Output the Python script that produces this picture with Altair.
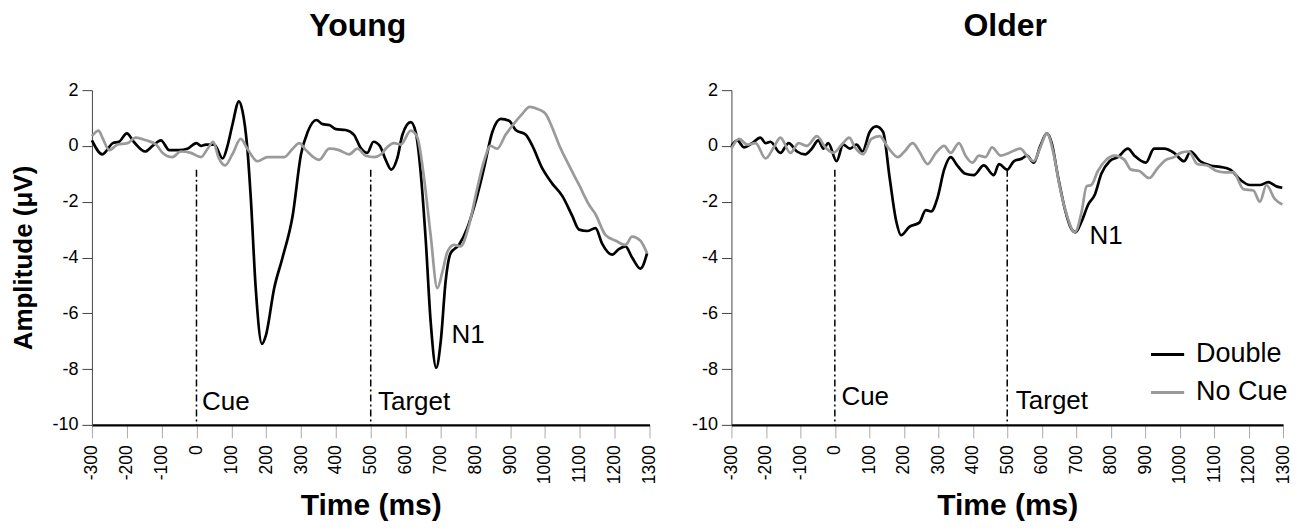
import altair as alt
import pandas as pd

FONT = "Liberation Sans"

# ---- data ----
young_double_t = [-300,-270,-240,-222,-200,-180,-147,-126,-102,-78,-50,-26,0,13,27,51,75,89,103,122,132,146,156,170,188,199,223,247,276,300,319,344,362,381,400,428,452,470,490,508,526,543,559,576,591,615,629,643,658,672,688,701,715,729,753,777,801,825,849,873,897,916,945,964,992,1021,1050,1078,1098,1121,1145,1164,1193,1212,1231,1250,1274,1293]
young_double_v = [0.2,-0.3,0.1,0.15,0.45,0.15,-0.2,0,0.2,-0.15,-0.15,-0.1,0.1,0,0.05,0.05,-0.45,0,0.75,1.6,1.25,-0.1,-1.9,-5.1,-7.1,-6.8,-5.1,-4.0,-2.5,-0.3,0.5,0.93,0.78,0.75,0.6,0.57,0.4,-0.05,-0.25,0.15,0,-0.5,-0.85,-0.45,0.4,0.85,0.5,-0.9,-3.4,-6.3,-7.95,-7.0,-4.85,-3.85,-3.55,-2.95,-2.0,-0.8,0.5,0.97,0.9,0.57,0.4,0,-0.8,-1.35,-1.8,-2.5,-3.0,-3.05,-2.95,-3.5,-3.9,-3.7,-3.6,-4.0,-4.4,-3.85]

young_nocue_t = [-300,-281,-270,-250,-226,-198,-174,-145,-116,-97,-69,-45,-16,13,32,48,63,82,103,127,146,175,204,232,252,276,295,314,352,381,409,438,462,486,510,530,543,567,586,615,634,653,672,691,706,720,739,758,782,806,825,844,863,887,911,935,956,983,1002,1021,1040,1069,1098,1126,1145,1174,1203,1231,1250,1274,1293]
young_nocue_v = [0.35,0.55,0.3,-0.15,0.05,0.1,0.3,0.2,0.05,-0.25,-0.4,-0.2,-0.25,-0.4,-0.1,0.15,-0.4,-0.7,-0.3,0.25,-0.1,-0.55,-0.4,-0.4,-0.4,-0.1,0.1,-0.15,-0.5,-0.1,-0.15,-0.3,-0.1,-0.35,-0.4,-0.3,-0.1,0.1,0.05,0.55,0.3,-1.15,-3.2,-5.1,-4.5,-3.8,-3.55,-3.6,-2.85,-1.5,-0.55,0,-0.1,0.4,0.8,1.15,1.4,1.3,1.15,0.65,0.05,-0.7,-1.4,-2.1,-2.45,-3.2,-3.4,-3.55,-3.25,-3.4,-3.85]

older_double_t = [-300,-283,-264,-240,-216,-201,-187,-158,-134,-110,-86,-67,-48,-33,-19,5,24,44,63,80,101,120,140,159,178,192,216,245,264,279,298,317,336,355,379,403,432,461,476,500,519,543,557,577,596,615,629,648,668,685,698,716,735,754,773,797,821,850,869,902,926,955,984,1013,1032,1060,1089,1118,1147,1175,1204,1233,1257,1281,1298]
older_double_v = [0,0.2,-0.05,0.1,0.3,0.1,0.15,-0.25,0.1,-0.2,-0.3,-0.1,0.2,-0.1,0.1,-0.55,0.05,-0.1,0.05,-0.2,0.5,0.7,0.5,-1.15,-2.7,-3.2,-2.9,-2.75,-2.3,-2.35,-1.85,-0.85,-0.4,-0.7,-1.0,-1.05,-0.7,-1.05,-0.65,-0.85,-0.55,-0.45,-0.35,-0.6,0,0.45,0.1,-1.15,-2.3,-2.95,-3.1,-2.7,-2.1,-1.75,-1.0,-0.55,-0.4,-0.1,-0.35,-0.6,-0.1,-0.1,-0.25,-0.55,-0.2,-0.55,-0.7,-0.75,-0.85,-1.2,-1.4,-1.4,-1.3,-1.45,-1.5]

older_nocue_t = [-300,-278,-254,-230,-201,-177,-158,-129,-105,-81,-52,-28,-4,20,42,58,82,106,130,154,183,202,226,245,269,293,317,336,360,379,399,418,437,456,481,505,538,557,577,596,615,634,653,672,696,716,730,744,763,787,811,840,859,883,912,936,960,984,1003,1027,1051,1080,1108,1132,1156,1185,1214,1233,1252,1276,1298]
older_nocue_v = [-0.1,0.25,0.05,0.1,-0.45,-0.05,0.3,-0.25,0.1,0,0.35,-0.05,-0.25,0.05,0.3,-0.05,-0.3,0.25,0.35,-0.05,-0.4,-0.2,0.1,-0.2,-0.65,-0.25,0,-0.25,0.1,-0.35,-0.6,-0.35,-0.4,-0.05,-0.35,-0.25,-0.1,-0.35,-0.55,-0.05,0.45,-0.25,-1.5,-2.45,-3.1,-2.35,-1.45,-1.4,-0.9,-0.5,-0.35,-0.5,-0.85,-0.9,-1.15,-0.8,-0.5,-0.4,-0.25,-0.2,-0.65,-0.7,-0.9,-0.95,-0.95,-1.55,-1.6,-2.0,-1.4,-1.9,-2.1]

conditions = ["Double", "No Cue"]
colors = ["#000000", "#9a9a9a"]

marker_t = [0, 500]
marker_top = -0.85
marker_bottom = -10

young_label_text = ["Cue", "Target", "N1"]
young_label_t = [16, 521, 732]
young_label_v = [-9.46, -9.46, -7.07]
older_label_text = ["Cue", "Target", "N1"]
older_label_t = [19, 525, 739]
older_label_v = [-9.3, -9.43, -3.52]

x_ticks = list(range(-300, 1301, 100))
y_ticks = [-10, -8, -6, -4, -2, 0, 2]


def series(t, v, cond):
    return pd.DataFrame({"t": t, "v": v, "cond": cond})


def panel(title, dd, nc, lab_text, lab_t, lab_v, first, title_dx):
    lines_df = pd.concat([series(dd[0], dd[1], "Double"), series(nc[0], nc[1], "No Cue")])
    xs = alt.Scale(domain=[-300, 1300], nice=False, zero=False)
    xa = alt.Axis(values=x_ticks, labelAngle=-90, title="Time (ms)",
                  labelExpr="'' + datum.value", labelOverlap=False, labelFlush=False)
    y_axis = dict(values=y_ticks, labelExpr="'' + datum.value")
    if first:
        y_axis["title"] = "Amplitude (\u03bcV)"
    else:
        y_axis["title"] = None
    ys = alt.Scale(domain=[-10, 2], nice=False, zero=False)
    ya = alt.Axis(**y_axis)
    if first:
        leg = None
    else:
        leg = alt.Legend(title=None, orient="none", legendX=418, legendY=246,
                         symbolType="stroke", symbolSize=1100, symbolStrokeWidth=3,
                         labelFontSize=27, labelFont=FONT, labelColor="black",
                         rowPadding=6, labelOffset=10, padding=0)
    color = alt.Color("cond:N", scale=alt.Scale(domain=conditions, range=colors), legend=leg)

    lines = alt.Chart(lines_df).mark_line(strokeWidth=2.7, interpolate="monotone").encode(
        x=alt.X("t:Q", scale=xs, axis=xa), y=alt.Y("v:Q", scale=ys, axis=ya),
        color=color, detail="cond:N")

    mk_df = pd.DataFrame({"t": marker_t, "top": marker_top, "bottom": marker_bottom})
    markers = alt.Chart(mk_df).mark_rule(color="black", strokeWidth=1.5,
                                         strokeDash=[7, 3, 2, 3]).encode(
        x=alt.X("t:Q", scale=xs, axis=xa), y=alt.Y("top:Q", scale=ys, axis=ya),
        y2="bottom:Q")

    lab_df = pd.DataFrame({"txt": lab_text, "t": lab_t, "v": lab_v})
    labels = alt.Chart(lab_df).mark_text(align="left", baseline="alphabetic",
                                         fontSize=26, font=FONT, color="black").encode(
        x=alt.X("t:Q", scale=xs, axis=xa), y=alt.Y("v:Q", scale=ys, axis=ya),
        text="txt:N")

    return alt.layer(lines, markers, labels).properties(
        width=558 if first else 552, height=335,
        title=alt.TitleParams(title, fontSize=32, fontWeight="bold", font=FONT,
                              color="black", offset=38, dx=title_dx))


left = panel("Young", (young_double_t, young_double_v), (young_nocue_t, young_nocue_v),
             young_label_text, young_label_t, young_label_v, True, -13)
right = panel("Older", (older_double_t, older_double_v), (older_nocue_t, older_nocue_v),
              older_label_text, older_label_t, older_label_v, False, -2)

chart = alt.hconcat(left, right, spacing=32).resolve_legend(color="independent").properties(
    padding={"left": 2, "top": 2, "right": 0, "bottom": 0}
).configure_view(stroke=None).configure_axis(
    grid=False, labelFont=FONT, titleFont=FONT, labelColor="black", titleColor="black"
).configure_axisY(
    labelFontSize=18, titleFontSize=26, titleFontWeight="bold", domainColor="#444",
    domainWidth=1, tickColor="#444", tickWidth=1, tickSize=10, labelPadding=4,
    titlePadding=15
).configure_axisX(
    labelFontSize=17.5, titleFontSize=30, titleFontWeight="bold", domainColor="black",
    domainWidth=2.5, tickColor="#aaaaaa", tickWidth=1, tickSize=13, labelPadding=7,
    titlePadding=7, labelOverlap=False, labelFlush=False
)

chart.save("out.html", embed_options={"renderer": "svg", "actions": False})
